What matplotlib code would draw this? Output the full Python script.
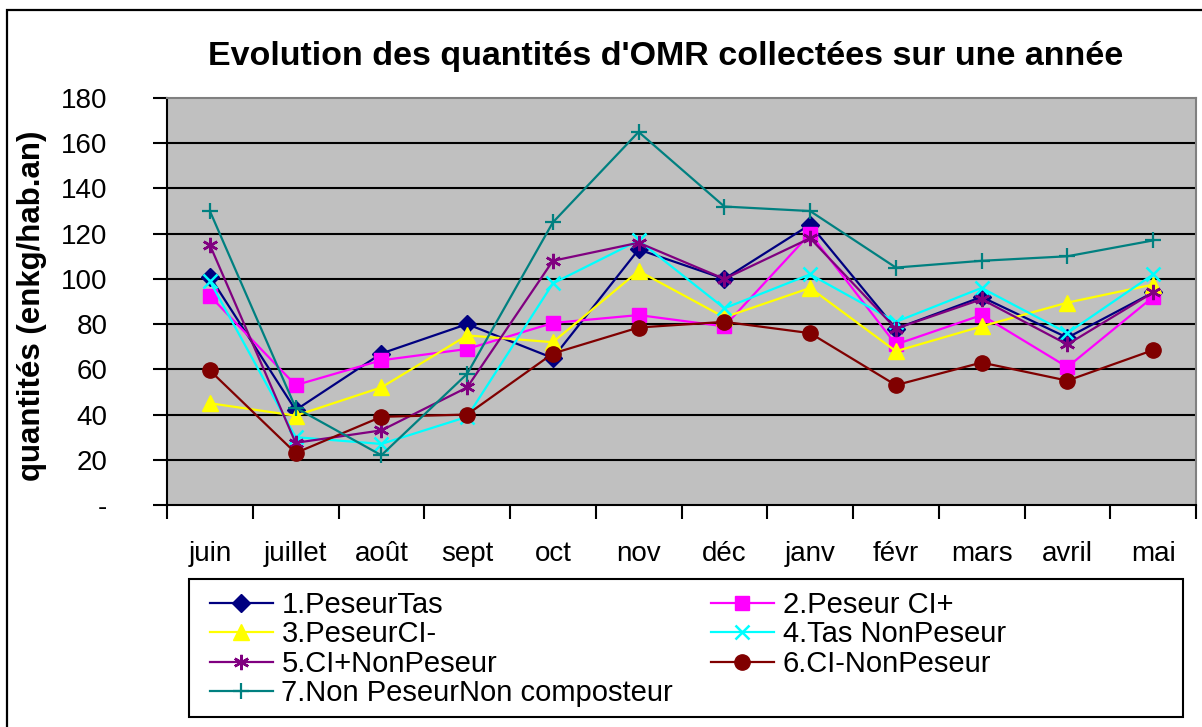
import matplotlib
matplotlib.use("Agg")
import matplotlib.pyplot as plt
from matplotlib.patches import Rectangle
from matplotlib.ticker import FixedLocator, NullFormatter
import numpy as np

plt.rcParams['font.family'] = ['Liberation Sans', 'DejaVu Sans']

months = ["juin", "juillet", "août", "sept", "oct", "nov", "déc", "janv", "févr", "mars", "avril", "mai"]
yticks = [0, 20, 40, 60, 80, 100, 120, 140, 160, 180]
ytick_labels = ["-", "20", "40", "60", "80", "100", "120", "140", "160", "180"]

s1_peseur_tas = [101, 42, 67, 80, 65, 113, 100, 124, 78, 92, 74, 94]
s2_peseur_ci_plus = [92.5, 53, 64, 69, 80.5, 84, 79, 120, 71, 84, 61, 92]
s3_peseur_ci_minus = [45, 39.5, 52, 75, 72, 103.5, 83, 96, 68, 79, 89.5, 97.5]
s4_tas_nonpeseur = [99, 30, 27, 39, 98, 117, 87, 102, 81, 96, 76, 102]
s5_ci_plus_nonpeseur = [115, 27.5, 33, 52, 108, 116, 100, 118, 78, 91, 71, 94]
s6_ci_minus_nonpeseur = [59.5, 23, 39, 40, 67, 78.5, 81, 76, 53, 63, 55, 68.5]
s7_nonpeseur_noncomposteur = [130, 43, 22, 58, 125, 165, 132, 130, 105, 108, 110, 117]

labels = ["1.PeseurTas", "2.Peseur CI+", "3.PeseurCI-", "4.Tas NonPeseur",
          "5.CI+NonPeseur", "6.CI-NonPeseur", "7.Non PeseurNon composteur"]
series = [s1_peseur_tas, s2_peseur_ci_plus, s3_peseur_ci_minus, s4_tas_nonpeseur,
          s5_ci_plus_nonpeseur, s6_ci_minus_nonpeseur, s7_nonpeseur_noncomposteur]

styles = [
    dict(color="#000080", marker="D", ms=9),
    dict(color="#FF00FF", marker="s", ms=10),
    dict(color="#FFFF00", marker="^", ms=12),
    dict(color="#00FFFF", marker="x", ms=10, mew=1.8),
    dict(color="#800080", marker=(6, 2, 0), ms=11, mew=1.8),
    dict(color="#800000", marker="o", ms=11),
    dict(color="#008080", marker="+", ms=12, mew=1.6),
]

W, H = 1202, 727
fig = plt.figure(figsize=(W / 100, H / 100), dpi=100)
fig.patch.set_facecolor("white")

# outer chart border
fig.add_artist(Rectangle((7 / W, -0.1), 1.2, 1 - 10 / H + 0.1, transform=fig.transFigure,
                         fill=False, edgecolor="black", linewidth=1.6, clip_on=False))

left, right, top, bottom = 167, 1196, 98, 505
ax = fig.add_axes([left / W, 1 - bottom / H, (right - left) / W, (bottom - top) / H])
ax.set_facecolor("#C0C0C0")

x = np.arange(len(months))
handles = []
for vals, lab, st in zip(series, labels, styles):
    st = dict(st)
    mew = st.pop("mew", 1.0)
    h, = ax.plot(x, vals, linestyle="-", linewidth=1.6, label=lab,
                 markeredgewidth=mew, markerfacecolor=st["color"], markeredgecolor=st["color"],
                 zorder=3, **st)
    handles.append(h)

ax.set_xlim(-0.5, len(months) - 0.5)
ax.set_ylim(0, 180)
ax.set_yticks(yticks)
ax.set_yticklabels(ytick_labels, fontsize=20)
for yv in yticks[1:-1]:
    ax.axhline(yv, color="black", linewidth=1.5, zorder=1)

ax.set_xticks(x)
ax.set_xticklabels(months, fontsize=20)
ax.xaxis.set_minor_locator(FixedLocator(np.arange(-0.5, len(months), 1.0)))
ax.xaxis.set_minor_formatter(NullFormatter())
ax.tick_params(axis="x", which="major", length=0, pad=26)
ax.tick_params(axis="x", which="minor", length=10, width=1.5, direction="out")
ax.tick_params(axis="y", length=10, width=1.5, direction="out", pad=33)

ax.spines["left"].set_color("black")
ax.spines["left"].set_linewidth(1.5)
ax.spines["bottom"].set_color("black")
ax.spines["bottom"].set_linewidth(1.5)
ax.spines["top"].set_color("#808080")
ax.spines["top"].set_linewidth(1.5)
ax.spines["right"].set_color("#808080")
ax.spines["right"].set_linewidth(1.5)

ax.set_ylabel("quantités (enkg/hab.an)", fontsize=22.5, fontweight="bold")
ax.yaxis.set_label_coords((47 - left) / (right - left), 0.49)

fig.text(666 / W, 1 - 57 / H, "Evolution des quantités d'OMR collectées sur une année",
         ha="center", va="center", fontsize=24.5, fontweight="bold")

# legend frame
lx0, lx1, ly0, ly1 = 189, 1183, 579, 717
fig.add_artist(Rectangle((lx0 / W, 1 - ly1 / H), (lx1 - lx0) / W, (ly1 - ly0) / H,
                         transform=fig.transFigure, fill=True, facecolor="white",
                         edgecolor="black", linewidth=1.5, zorder=4))

order = [0, 2, 4, 6, 1, 3, 5]
leg = fig.legend([handles[i] for i in order], [labels[i] for i in order],
                 ncol=2, loc="upper left",
                 bbox_to_anchor=(210 / W, 1 - 591 / H),
                 frameon=False,
                 fontsize=21, handlelength=2.15, handletextpad=0.3,
                 labelspacing=0.05, columnspacing=1.3, borderpad=0.0,
                 borderaxespad=0)
leg.set_zorder(5)

fig.savefig("out.png", dpi=100, facecolor="white")
